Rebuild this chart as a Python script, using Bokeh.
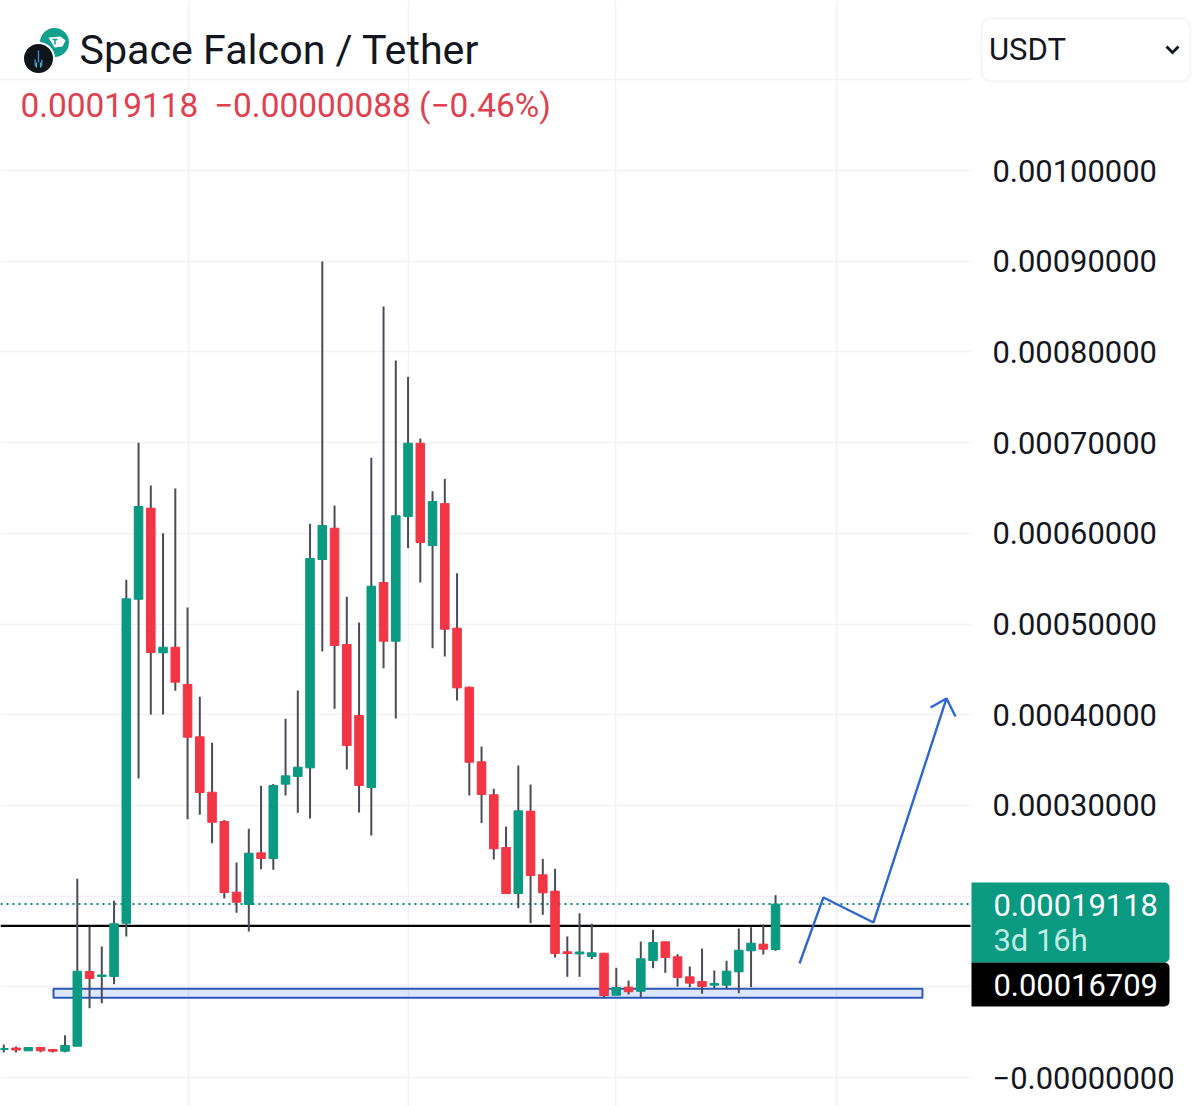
from bokeh.plotting import figure
from bokeh.models import (Range1d, FixedTicker, LinearAxis, Label, BoxAnnotation,
                          PolyAnnotation, ColumnDataSource, Grid)
from bokeh.embed import file_html
from bokeh.resources import INLINE

UNIT = 1e-5
opens = [3.09,3.25,2.94,3.31,3.09,2.90,3.45,11.69,11.14,11.14,17.01,52.73,62.77,46.82,47.44,43.33,
         37.56,31.45,28.22,20.43,19.07,24.77,24.14,32.34,33.19,34.14,57.11,60.56,47.74,39.91,31.97,54.57,
         48.10,61.85,69.93,58.65,63.28,49.54,43.03,34.81,31.17,25.36,20.29,29.36,22.35,20.54,13.86,13.62,
         13.34,13.70,9.07,9.96,9.51,12.90,14.96,13.31,11.10,10.58,10.18,10.18,11.65,13.97,14.70,14.11]
closes = [3.20,3.03,3.31,2.94,2.90,3.53,11.72,10.91,11.30,16.95,52.78,62.95,46.86,47.44,43.58,37.52,
          31.42,28.15,20.40,19.33,24.73,24.14,32.19,33.26,34.21,57.22,60.86,47.63,36.60,32.19,54.17,48.10,
          61.93,69.93,58.98,63.50,49.43,42.96,34.76,31.20,25.21,20.29,29.40,22.27,20.36,13.67,13.67,13.84,
          13.75,9.04,9.92,9.45,13.09,14.88,13.23,11.03,10.40,10.03,10.36,11.72,14.03,14.81,14.15,19.118]
highs = [3.64,3.42,3.31,3.31,3.09,4.66,21.91,16.65,14.44,19.48,54.87,69.97,65.27,60.01,64.94,51.82,
         41.97,36.90,28.40,23.70,27.42,32.16,32.36,39.55,42.67,61.05,89.96,63.06,53.00,50.16,68.32,85.00,
         79.05,77.25,70.45,64.64,66.01,55.60,43.10,36.49,31.83,27.67,34.40,32.30,24.11,23.01,15.55,18.11,
         16.95,13.75,12.09,10.69,14.99,16.28,15.00,13.59,12.24,14.22,11.80,12.87,16.43,16.57,16.87,20.10]
lows = [2.76,2.76,2.94,2.79,2.76,2.79,3.45,7.64,8.19,10.29,15.55,32.96,40.02,40.02,42.63,28.48,
        28.96,25.83,19.73,18.16,16.10,22.97,22.90,31.09,29.18,28.55,46.97,40.65,33.97,29.22,26.68,45.13,
        39.58,58.36,54.57,47.33,46.42,41.56,31.09,28.04,24.03,20.29,18.67,17.01,17.94,13.23,11.10,11.10,
        13.04,8.79,9.07,9.15,8.85,12.05,11.54,10.03,9.96,9.23,9.78,9.81,9.29,9.96,13.56,13.97]

axis_ticks = [0, 0.0003, 0.0004, 0.0005, 0.0006, 0.0007, 0.0008, 0.0009, 0.001]
axis_labels = ["\u22120.00000000", "0.00030000", "0.00040000", "0.00050000", "0.00060000",
               "0.00070000", "0.00080000", "0.00090000", "0.00100000"]
grid_y = [0, 0.0001, 0.0002, 0.0003, 0.0004, 0.0005, 0.0006, 0.0007, 0.0008, 0.0009, 0.001, 0.0011]
grid_x = [15.05, 32.98, 49.85, 67.86]

last_price = 0.00019118
level_price = 0.00016709
zone_x = [4.05, 74.87]
zone_y = [0.0000879, 0.0000978]
arrow_x = [64.85, 66.80, 70.88, 76.83]
arrow_y = [12.57, 19.85, 17.09, 41.79]
head_x = [75.53, 76.83, 77.56]
head_y = [40.79, 41.79, 39.80]

title_text = "Space Falcon / Tether"
close_text = "0.00019118"
change_text = "\u22120.00000088 (\u22120.46%)"
price_text = "0.00019118"
count_text = "3d 16h"
level_text = "0.00016709"
select_text = "USDT"

GREEN, RED, WICK, INK = "#0a9981", "#f23645", "#4c4c56", "#131722"
GRID = "#f1f2f6"
FONT = "Roboto"
W, H, FRAME_W = 1200, 1106, 970
PX0, PX_STEP = 3.3, 12.25
PY0, PY_SCALE = 1077, 907000
GRID_STEP = 12.27


def X(px): return (px - PX0) / PX_STEP
def Y(py): return (PY0 - py) / PY_SCALE


p = figure(width=W, height=H, output_backend="svg", toolbar_location=None,
           x_range=Range1d(X(0), X(W)), y_range=Range1d(Y(H), Y(0)),
           x_axis_location=None, y_axis_location=None,
           min_border_left=0, min_border_top=0, min_border_bottom=0, min_border_right=0)
p.outline_line_color = None
p.background_fill_color = "white"
p.center = []

rescale = GRID_STEP / PX_STEP
p.add_layout(Grid(dimension=0, ticker=FixedTicker(ticks=[v * rescale for v in grid_x]),
                  grid_line_color=GRID, grid_line_width=1.5))
p.add_layout(Grid(dimension=1, ticker=FixedTicker(ticks=grid_y), grid_line_color=GRID, grid_line_width=1.5))

# blank strip holding the price scale: grid lines stop where it starts
p.quad(left=[X(FRAME_W)], right=[X(W)], bottom=[Y(H)], top=[Y(0)], fill_color="white", line_color=None)

yaxis = LinearAxis(ticker=FixedTicker(ticks=axis_ticks), fixed_location=X(FRAME_W),
                   major_label_overrides=dict(zip(axis_ticks, axis_labels)))
yaxis.axis_line_color = None
yaxis.major_tick_line_color = None
yaxis.minor_tick_line_color = None
yaxis.major_tick_out = 0
yaxis.major_tick_in = 0
yaxis.major_label_standoff = 22
yaxis.major_label_text_font = FONT
yaxis.major_label_text_font_size = "30.9px"
yaxis.major_label_text_color = INK
p.add_layout(yaxis, "right")

xs = list(range(len(opens)))
src = ColumnDataSource(dict(
    x=xs,
    o=[v * UNIT for v in opens], c=[v * UNIT for v in closes],
    h=[v * UNIT for v in highs], l=[v * UNIT for v in lows],
    color=[GREEN if c >= o else RED for o, c in zip(opens, closes)],
))

# zone and price lines sit behind the candles
p.quad(left=[v * rescale for v in zone_x[:1]], right=[v * rescale for v in zone_x[1:]],
       bottom=[zone_y[0]], top=[zone_y[1]],
       fill_color="#2962ff", fill_alpha=0.16, line_color="#2a57b8", line_width=2)
p.line([X(0), X(FRAME_W)], [last_price, last_price], line_color="#0b8a78", line_width=2, line_dash="2 4")
p.line([X(0), X(FRAME_W)], [level_price, level_price], line_color="#000000", line_width=2.2)

p.segment("x", "h", "x", "l", source=src, line_color=WICK, line_width=2)
p.vbar(x="x", width=0.7, top="c", bottom="o", source=src, fill_color="color", line_color="color", line_width=1)

p.line([v * rescale for v in arrow_x], [v * UNIT for v in arrow_y], line_color="#2f66d2", line_width=2.4)
p.line([v * rescale for v in head_x], [v * UNIT for v in head_y], line_color="#2f66d2", line_width=2.4)

# logo
p.scatter([X(54)], [Y(42)], size=29, marker="circle", fill_color="#12a08e", line_color=None)
p.patch([X(v) for v in (48, 60, 65, 62, 54)], [Y(v) for v in (37, 36, 40, 46, 47)], fill_color="white", line_color=None)
p.segment([X(52), X(54.5)], [Y(39), Y(39)], [X(57), X(54.5)], [Y(39), Y(44)], line_color="#12a08e", line_width=1.5)
p.scatter([X(38)], [Y(58)], size=31, marker="circle", fill_color="#10151b", line_color="white", line_width=2)
p.segment([X(38), X(34.5), X(41.5)], [Y(50), Y(59), Y(59)], [X(38), X(35), X(41)], [Y(62), Y(66), Y(66)],
          line_color="#3f7fc8", line_width=1.5)
p.segment([X(36), X(40)], [Y(62), Y(62)], [X(36), X(40)], [Y(67), Y(67)], line_color="#3fc8a0", line_width=1.2)


def label(text, px, center_py, size, color):
    p.add_layout(Label(x=px, y=H - center_py, x_units="screen", y_units="screen", text=text,
                       text_font=FONT, text_font_size=size, text_color=color, level="overlay",
                       text_baseline="alphabetic", text_align="left"))


def box(left, right, top, bottom, **kw):
    p.add_layout(BoxAnnotation(left=left, right=right, top=top, bottom=bottom, level="annotation",
                               left_units="canvas", right_units="canvas", top_units="canvas", bottom_units="canvas",
                               **kw))


box(971, 1169, 882, 962, fill_color=GREEN, fill_alpha=1, line_color=None, border_radius=(0, 5, 5, 0))
box(971, 1169, 962, 1006, fill_color="#000000", fill_alpha=1, line_color=None, border_radius=(0, 5, 5, 0))
box(981, 1190, 18, 81, fill_color="white", fill_alpha=1, line_color="#dcdfe6", line_width=2, border_radius=10)

label(title_text, 79, 49.5, "41.2px", INK)
label(close_text, 20, 104.5, "33.4px", "#e0404f")
label(change_text, 213.5, 104.5, "33.4px", "#e0404f")
label(price_text, 993, 904, "30.9px", "#ffffff")
label(count_text, 993, 940, "30.9px", "#bfeee2")
label(level_text, 993, 984, "30.9px", "#ffffff")
label(select_text, 988.5, 49, "31px", INK)

p.add_layout(PolyAnnotation(xs=[1165, 1167, 1172, 1177, 1179, 1172], ys=[47, 45, 50, 45, 47, 54],
                            xs_units="canvas", ys_units="canvas", level="overlay",
                            fill_color=INK, fill_alpha=1, line_color=None))

open("out.html", "w").write(file_html(p, INLINE))
